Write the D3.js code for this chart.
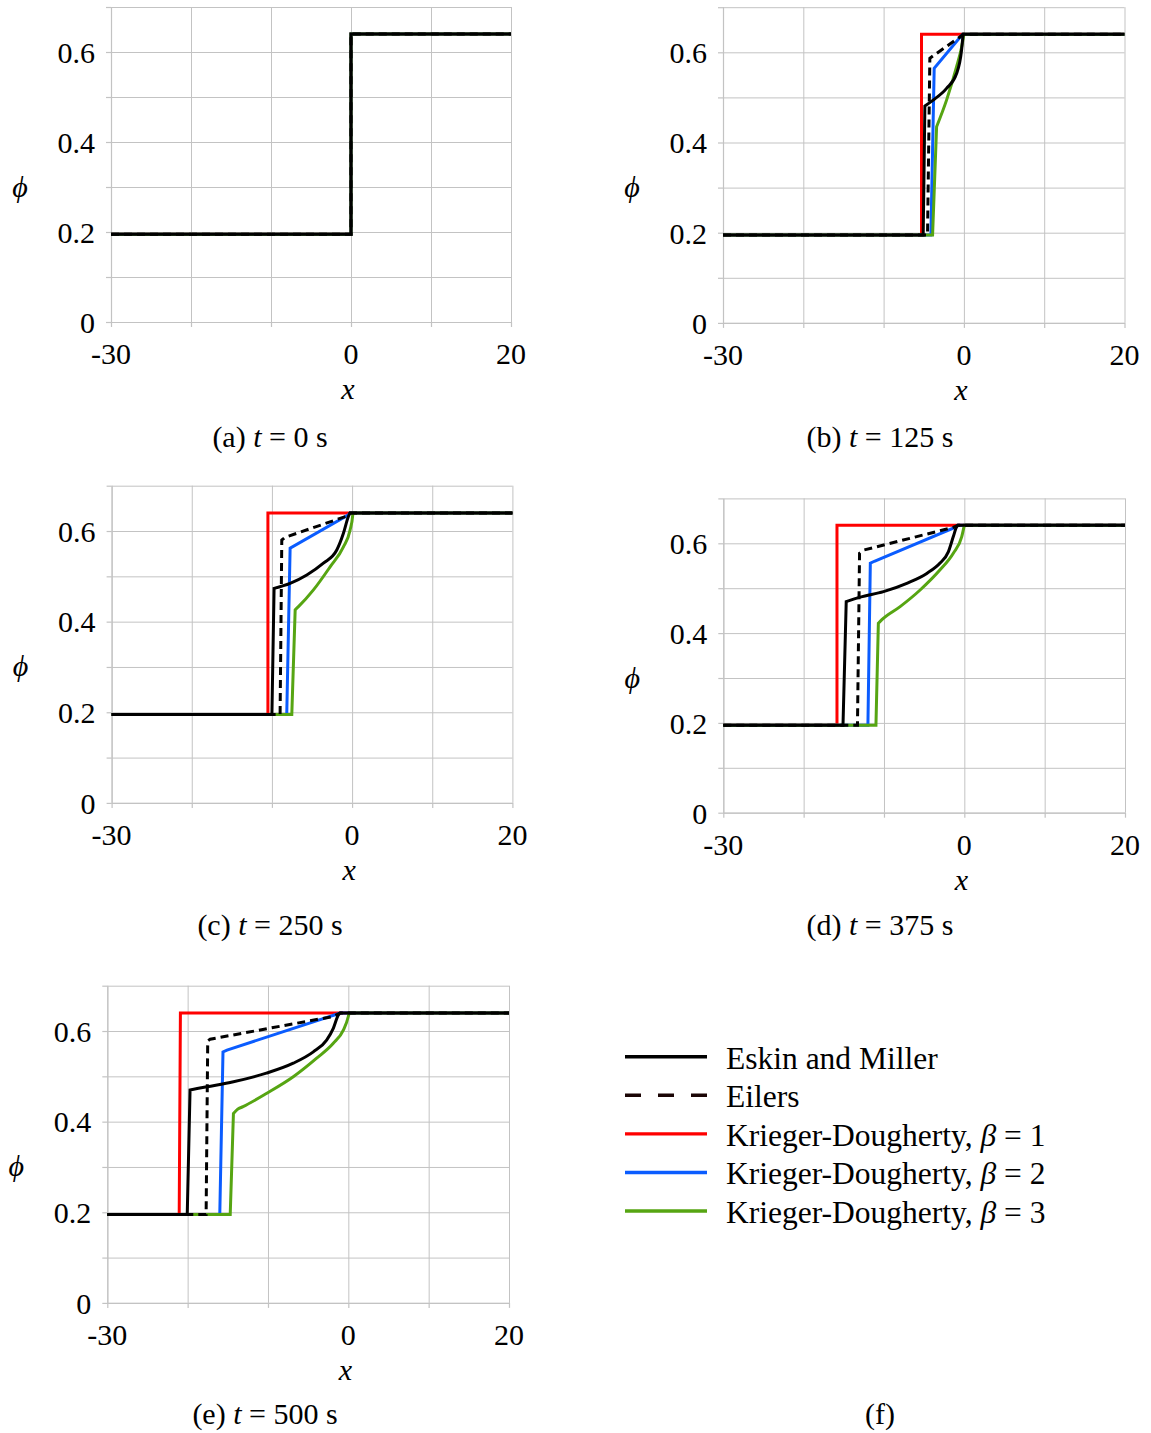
<!DOCTYPE html>
<html>
<head>
<meta charset="utf-8">
<script src="https://cdn.jsdelivr.net/npm/d3@7"></script>
<style>
  body { margin: 0; background: #fff; }
  svg { display: block; font-family: "Liberation Serif", "Times New Roman", "DejaVu Serif", serif; }
</style>
</head>
<body>
<svg id="fig" width="1151" height="1433"></svg>
<script>
// ---- data -------------------------------------------------------------
const timesSec = [0, 125, 250, 375, 500];
const panelLetters = ["a", "b", "c", "d", "e"];
const xTickValues = [-30, 0, 20];
const yTickValues = [0, 0.2, 0.4, 0.6];
const xGridValues = [-30, -20, -10, 0, 10, 20];
const yGridValues = [0, 0.1, 0.2, 0.3, 0.4, 0.5, 0.6, 0.7];
const xDomain = [-30, 20];
const yDomain = [0, 0.7];

// volume-fraction profiles phi(x), one list per time (0, 125, 250, 375, 500 s)
const eskinMiller = [
  [[-30, 0.195], [0, 0.195], [0, 0.64], [20, 0.64]],
  [[-30, 0.195], [-5.07, 0.195], [-4.86, 0.481], [-3.83, 0.494], [-2.16, 0.52], [-0.91, 0.553], [-0.29, 0.605], [-0.1, 0.64], [20, 0.64]],
  [[-30, 0.195], [-10.0, 0.195], [-9.73, 0.4735], [-7.73, 0.4845], [-5.65, 0.503], [-3.58, 0.529], [-1.91, 0.558], [-1.08, 0.595], [-0.46, 0.632], [-0.25, 0.64], [20, 0.64]],
  [[-30, 0.195], [-15.1, 0.195], [-14.7, 0.47], [-12.96, 0.48], [-10.06, 0.4925], [-7.16, 0.511], [-4.67, 0.533], [-3.02, 0.556], [-1.99, 0.581], [-1.37, 0.615], [-0.95, 0.637], [-0.8, 0.64], [20, 0.64]],
  [[-30, 0.195], [-20.05, 0.195], [-19.7, 0.47], [-17.6, 0.477], [-14.3, 0.488], [-10.2, 0.507], [-6.85, 0.529], [-4.36, 0.554], [-2.7, 0.58], [-1.87, 0.606], [-1.25, 0.635], [-1.0, 0.64], [20, 0.64]]
];
const eilers = [
  [[-30, 0.195], [0, 0.195], [0, 0.64], [20, 0.64]],
  [[-30, 0.195], [-4.53, 0.195], [-4.24, 0.587], [-0.5, 0.634], [-0.1, 0.64], [20, 0.64]],
  [[-30, 0.195], [-8.98, 0.195], [-8.77, 0.58], [-8.35, 0.586], [-0.66, 0.633], [-0.25, 0.64], [20, 0.64]],
  [[-30, 0.195], [-13.3, 0.195], [-13.04, 0.578], [-12.5, 0.585], [-1.37, 0.6355], [-0.8, 0.64], [20, 0.64]],
  [[-30, 0.195], [-17.7, 0.195], [-17.5, 0.578], [-17.2, 0.582], [-1.87, 0.632], [-1.0, 0.64], [20, 0.64]]
];
const kdBeta1 = [
  [[-30, 0.195], [0, 0.195], [0, 0.64], [20, 0.64]],
  [[-30, 0.195], [-5.28, 0.195], [-5.28, 0.64], [20, 0.64]],
  [[-30, 0.195], [-10.5, 0.195], [-10.5, 0.64], [20, 0.64]],
  [[-30, 0.195], [-15.85, 0.195], [-15.85, 0.64], [20, 0.64]],
  [[-30, 0.195], [-21.05, 0.195], [-20.9, 0.64], [20, 0.64]]
];
const kdBeta2 = [
  [[-30, 0.195], [0, 0.195], [0, 0.64], [20, 0.64]],
  [[-30, 0.195], [-4.11, 0.195], [-3.7, 0.5645], [-0.3, 0.637], [-0.1, 0.64], [20, 0.64]],
  [[-30, 0.195], [-8.15, 0.195], [-7.73, 0.562], [-0.5, 0.635], [-0.25, 0.64], [20, 0.64]],
  [[-30, 0.195], [-12.0, 0.195], [-11.7, 0.5555], [-11.2, 0.56], [-0.95, 0.637], [-0.8, 0.64], [20, 0.64]],
  [[-30, 0.195], [-16.0, 0.195], [-15.6, 0.554], [-15.1, 0.558], [-1.45, 0.637], [-1.0, 0.64], [20, 0.64]]
];
const kdBeta3 = [
  [[-30, 0.195], [0, 0.195], [0, 0.64], [20, 0.64]],
  [[-30, 0.195], [-3.9, 0.195], [-3.4, 0.435], [-2.16, 0.494], [-0.91, 0.568], [-0.3, 0.61], [0, 0.64], [20, 0.64]],
  [[-30, 0.195], [-7.52, 0.195], [-7.1, 0.426], [-6.69, 0.433], [-4.82, 0.47], [-2.74, 0.521], [-1.08, 0.565], [-0.25, 0.602], [0.08, 0.635], [0.1, 0.64], [20, 0.64]],
  [[-30, 0.195], [-11.0, 0.195], [-10.7, 0.422], [-10.26, 0.43], [-7.99, 0.459], [-5.5, 0.496], [-3.02, 0.541], [-1.37, 0.578], [-0.32, 0.615], [0, 0.64], [20, 0.64]],
  [[-30, 0.195], [-14.7, 0.195], [-14.3, 0.418], [-13.8, 0.427], [-13.1, 0.433], [-10.2, 0.462], [-6.85, 0.499], [-3.94, 0.54], [-1.87, 0.573], [-0.62, 0.602], [0, 0.632], [0.1, 0.64], [20, 0.64]]
];

// ---- styling / layout ---------------------------------------------------
const FONT = 30;
const GRID = "#c3c3c3";

// drawing order: coloured models underneath, Eilers, then Eskin & Miller on top
const series = [
  { name: "kd1", data: kdBeta1, color: "#ff0000", dash: null, smooth: false },
  { name: "kd2", data: kdBeta2, color: "#0a5cff", dash: null, smooth: false },
  { name: "kd3", data: kdBeta3, color: "#56a512", dash: null, smooth: true },
  { name: "eilers", data: eilers, color: "#000000", dash: "8,5", smooth: false },
  { name: "em", data: eskinMiller, color: "#000000", dash: null, smooth: true }
];

const frames = [
  { left: 111,   right: 511,    top: 7,     bottom: 322,    capX: 270, capY: 447 },
  { left: 723,   right: 1124.5, top: 7.2,   bottom: 322.9,  capX: 880, capY: 447 },
  { left: 111.6, right: 512.4,  top: 485.7, bottom: 802.9,  capX: 270, capY: 935 },
  { left: 723.3, right: 1125,   top: 498.4, bottom: 812.7,  capX: 880, capY: 935 },
  { left: 107.3, right: 509,    top: 985.7, bottom: 1302.9, capX: 265, capY: 1424 }
];

const svg = d3.select("#fig");
const fmtY = d => (d === 0 ? "0" : d3.format(".1f")(d));

// A profile is: flat plateau -> near-vertical front -> rise -> flat plateau.
// Plateaus and front are straight; the rise is straight or a monotone curve.
function profilePath(pts, x, y, smooth) {
  const straight = d3.line().x(d => x(d[0])).y(d => y(d[1]));
  const rise = d3.line().x(d => x(d[0])).y(d => y(d[1]))
    .curve(smooth ? d3.curveMonotoneX : d3.curveLinear);
  const n = pts.length;
  const head = pts.slice(0, 3);
  const mid = pts.slice(2, n - 1);
  const tail = pts.slice(n - 2);
  let d = straight(head);
  if (mid.length > 1) d += rise(mid).replace(/^M/, "L");
  d += straight(tail).replace(/^M/, "L");
  return d;
}

timesSec.forEach((t, i) => {
  const f = frames[i];
  const x = d3.scaleLinear().domain(xDomain).range([f.left, f.right]);
  const y = d3.scaleLinear().domain(yDomain).range([f.bottom, f.top]);
  const g = svg.append("g").attr("class", "panel-" + panelLetters[i]);

  // grid lines
  g.append("g")
    .attr("transform", `translate(0,${f.bottom})`)
    .call(d3.axisBottom(x).tickValues(xGridValues).tickSize(-(f.bottom - f.top)).tickFormat(""))
    .call(s => s.select(".domain").remove())
    .call(s => s.selectAll("line").attr("stroke", GRID).attr("stroke-width", 1));
  g.append("g")
    .attr("transform", `translate(${f.left},0)`)
    .call(d3.axisLeft(y).tickValues(yGridValues).tickSize(-(f.right - f.left)).tickFormat(""))
    .call(s => s.select(".domain").remove())
    .call(s => s.selectAll("line").attr("stroke", GRID).attr("stroke-width", 1));

  // axis lines with short outward ticks
  const ax = g.append("g")
    .attr("transform", `translate(0,${f.bottom})`)
    .call(d3.axisBottom(x).tickValues(xGridValues).tickSizeInner(5).tickSizeOuter(0).tickFormat(""));
  const ay = g.append("g")
    .attr("transform", `translate(${f.left},0)`)
    .call(d3.axisLeft(y).tickValues(yGridValues).tickSizeInner(5).tickSizeOuter(0).tickFormat(""));
  [ax, ay].forEach(a => {
    a.select(".domain").attr("stroke", GRID).attr("stroke-width", 1.2);
    a.selectAll("line").attr("stroke", GRID).attr("stroke-width", 1.2);
  });

  // tick labels
  g.append("g").attr("class", "x-labels")
    .selectAll("text").data(xTickValues).join("text")
    .attr("x", d => x(d)).attr("y", f.bottom + 42)
    .attr("text-anchor", "middle").attr("font-size", FONT)
    .text(d => String(d));
  g.append("g").attr("class", "y-labels")
    .selectAll("text").data(yTickValues).join("text")
    .attr("x", f.left - 16).attr("y", d => y(d)).attr("dy", "0.36em")
    .attr("text-anchor", "end").attr("font-size", FONT)
    .text(fmtY);

  // profiles
  series.forEach(s => {
    g.append("path")
      .attr("class", "series-" + s.name)
      .attr("fill", "none")
      .attr("stroke", s.color)
      .attr("stroke-width", 3)
      .attr("stroke-dasharray", s.dash)
      .attr("stroke-linejoin", "miter")
      .attr("d", profilePath(s.data[i], x, y, s.smooth));
  });

  // axis titles
  g.append("text")
    .attr("x", x(0) - 3).attr("y", f.bottom + 77)
    .attr("text-anchor", "middle").attr("font-size", FONT).attr("font-style", "italic")
    .text("x");
  g.append("text")
    .attr("x", f.left - 91).attr("y", (f.top + f.bottom) / 2 + 32)
    .attr("text-anchor", "middle").attr("font-size", FONT).attr("font-style", "italic")
    .text("\u03D5");

  // caption
  const cap = g.append("text")
    .attr("x", f.capX).attr("y", f.capY)
    .attr("text-anchor", "middle").attr("font-size", FONT);
  cap.append("tspan").text(`(${panelLetters[i]}) `);
  cap.append("tspan").attr("font-style", "italic").text("t");
  cap.append("tspan").text(` = ${t} s`);
});

// ---- legend (panel f) -----------------------------------------------------
const legendItems = [
  { label: ["Eskin and Miller"], color: "#000000", dash: null },
  { label: ["Eilers"], color: "#1a0505", dash: "16,17" },
  { label: ["Krieger-Dougherty, ", "\u03B2", " = 1"], color: "#ff0000", dash: null },
  { label: ["Krieger-Dougherty, ", "\u03B2", " = 2"], color: "#0a5cff", dash: null },
  { label: ["Krieger-Dougherty, ", "\u03B2", " = 3"], color: "#56a512", dash: null }
];
const legend = svg.append("g").attr("class", "legend");
const legendY = d3.scalePoint().domain(d3.range(legendItems.length)).range([1056.7, 1211]);
legendItems.forEach((it, k) => {
  const ly = legendY(k);
  legend.append("line")
    .attr("x1", 625).attr("x2", 707).attr("y1", ly).attr("y2", ly)
    .attr("stroke", it.color).attr("stroke-width", 3.4)
    .attr("stroke-dasharray", it.dash);
  const tx = legend.append("text")
    .attr("x", 726).attr("y", ly + 12).attr("font-size", 31.5);
  it.label.forEach((part, p) => {
    tx.append("tspan").attr("font-style", p === 1 ? "italic" : null).text(part);
  });
});
svg.append("text")
  .attr("x", 880).attr("y", 1424)
  .attr("text-anchor", "middle").attr("font-size", FONT)
  .text("(f)");
</script>
</body>
</html>
